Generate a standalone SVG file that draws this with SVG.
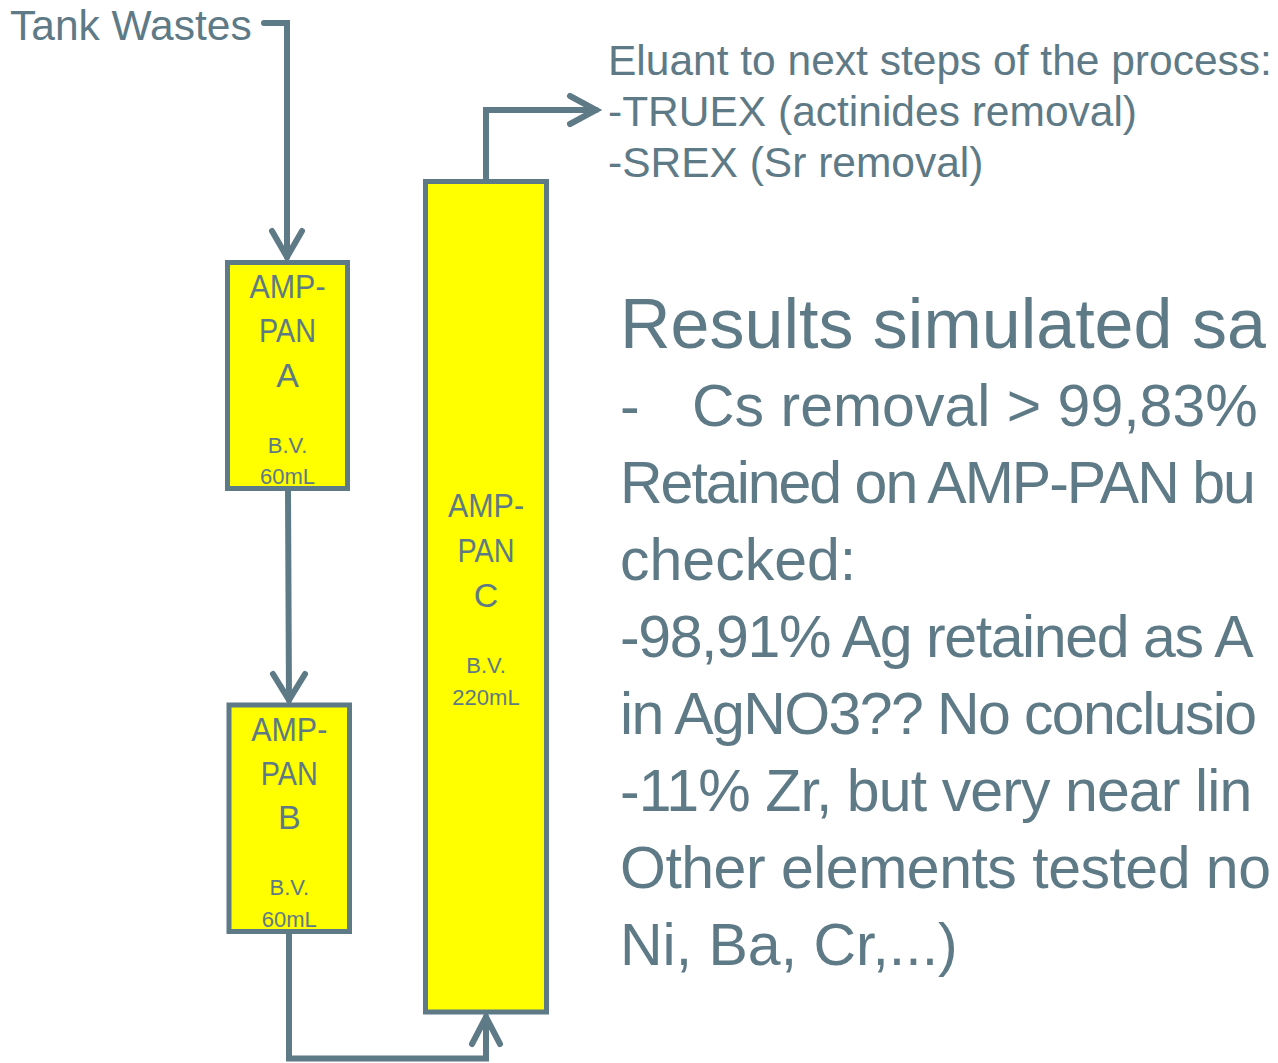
<svg xmlns="http://www.w3.org/2000/svg" width="1278" height="1063" viewBox="0 0 1278 1063">
<style>
.t{font-family:"Liberation Sans",Arial,sans-serif;fill:#5E7A86}
.box{fill:#FFFF00;stroke:#5E7A86;stroke-width:5}
.lbl{font-size:34px;text-anchor:middle}
.sm{font-size:22px;text-anchor:middle}
.con{fill:none;stroke:#5E7A86;stroke-width:6;stroke-linecap:round;stroke-linejoin:miter}
.big{font-size:59px}
</style>
<rect width="1278" height="1063" fill="#FFFFFF"/>
<text class="t" x="10" y="40" font-size="42.5">Tank Wastes</text>
<g id="connectors">
<path class="con" d="M264 23 H287 V257" stroke-linecap="butt"/>
<path class="con" d="M272 231 L287 257 L302 231"/>
<path class="con" d="M288 490 L289 700" stroke-linecap="butt"/>
<path class="con" d="M273 674 L289 700 L305 674"/>
<path class="con" d="M289 933 V1058.5 H486 V1017" stroke-linecap="butt"/>
<path class="con" d="M472 1044 L486 1017 L500 1044"/>
<path class="con" d="M486 180 V110 H596" stroke-linecap="butt"/>
<path class="con" d="M570 96 L596 110 L570 124"/>
</g>
<g id="nodeA">
<rect class="box" x="227.5" y="262.5" width="120" height="226"/>
<text class="t lbl" x="287.5" y="298" textLength="76" lengthAdjust="spacingAndGlyphs">AMP-</text>
<text class="t lbl" x="287.5" y="342" textLength="57" lengthAdjust="spacingAndGlyphs">PAN</text>
<text class="t lbl" x="287.5" y="387">A</text>
<text class="t sm" x="287.5" y="453">B.V.</text>
<text class="t sm" x="287.5" y="484">60mL</text>
</g>
<g id="nodeB">
<rect class="box" x="229" y="705" width="120.5" height="226.5"/>
<text class="t lbl" x="289.25" y="741" textLength="76" lengthAdjust="spacingAndGlyphs">AMP-</text>
<text class="t lbl" x="289.25" y="785" textLength="57" lengthAdjust="spacingAndGlyphs">PAN</text>
<text class="t lbl" x="289.25" y="829">B</text>
<text class="t sm" x="289.25" y="895">B.V.</text>
<text class="t sm" x="289.25" y="927">60mL</text>
</g>
<g id="nodeC">
<rect class="box" x="425.5" y="181.5" width="121" height="830.5"/>
<text class="t lbl" x="486" y="517" textLength="76" lengthAdjust="spacingAndGlyphs">AMP-</text>
<text class="t lbl" x="486" y="562" textLength="57" lengthAdjust="spacingAndGlyphs">PAN</text>
<text class="t lbl" x="486" y="607">C</text>
<text class="t sm" x="486" y="673">B.V.</text>
<text class="t sm" x="486" y="705">220mL</text>
</g>
<g id="eluant">
<text class="t" x="608" y="75" font-size="42.5">Eluant to next steps of the process:</text>
<text class="t" x="608" y="126" font-size="42.5">-TRUEX (actinides removal)</text>
<text class="t" x="608" y="177" font-size="42.5">-SREX (Sr removal)</text>
</g>
<g id="results">
<text class="t" x="620" y="348" font-size="70">Results simulated sa</text>
<text class="t big" x="620" y="426">-</text>
<text class="t big" x="692" y="426">Cs removal &gt; 99,83%</text>
<text class="t big" x="620" y="503" letter-spacing="-2">Retained on AMP-PAN bu</text>
<text class="t big" x="620" y="580">checked:</text>
<text class="t big" x="620" y="657" letter-spacing="-1.4">-98,91% Ag retained as A</text>
<text class="t big" x="620" y="734" letter-spacing="-1.6">in AgNO3?? No conclusio</text>
<text class="t big" x="620" y="811" letter-spacing="-0.9">-11% Zr, but very near lin</text>
<text class="t big" x="620" y="888" letter-spacing="-0.5">Other elements tested no</text>
<text class="t big" x="620" y="965">Ni, Ba, Cr,...)</text>
</g>
</svg>
